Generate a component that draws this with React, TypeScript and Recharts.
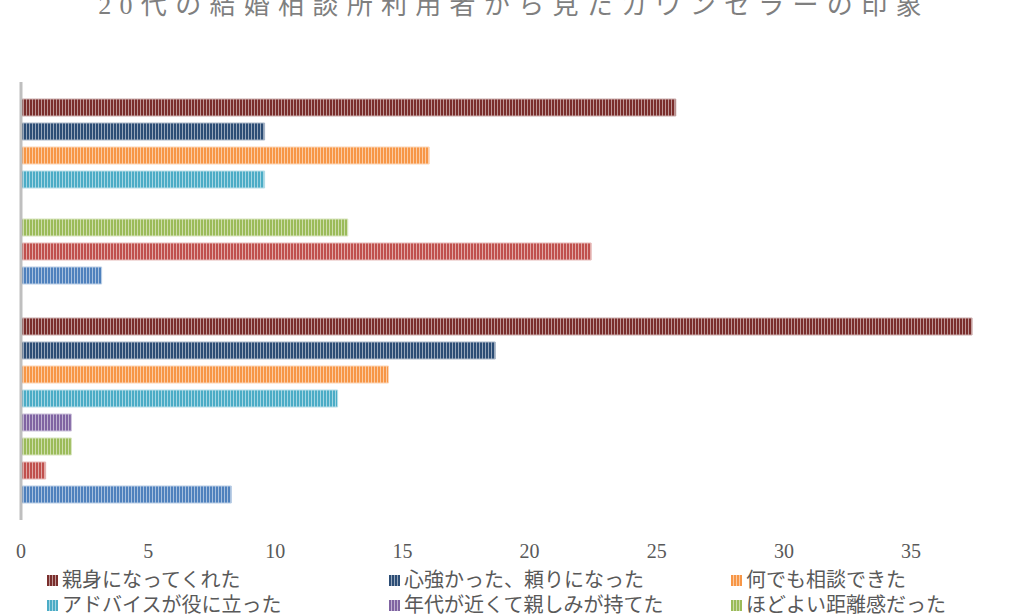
import { BarChart, Bar, XAxis, YAxis } from "recharts";

// categories, top to bottom
const categories = ["男性", "女性"];

// series, in legend / top-to-bottom order
const seriesNames = [
    "親身になってくれた",
    "心強かった、頼りになった",
    "何でも相談できた",
    "アドバイスが役に立った",
    "年代が近くて親しみが持てた",
    "ほどよい距離感だった",
    "話しやすかった",
    "その他",
];

const seriesColors = [
    "#7a2e2c", "#2c4d75", "#f79646", "#4bacc6",
    "#8064a2", "#9bbb59", "#c0504d", "#4f81bd",
];

// values per series: [top category, bottom category]
const s1 = [25.75, 37.4];
const s2 = [9.58, 18.65];
const s3 = [16.05, 14.45];
const s4 = [9.58, 12.45];
const s5 = [null, 1.98];
const s6 = [12.85, 1.98];
const s7 = [22.42, 0.97];
const s8 = [3.17, 8.27];
const seriesValues = [s1, s2, s3, s4, s5, s6, s7, s8];

const xTicks = [0, 5, 10, 15, 20, 25, 30, 35, 40];

const data = categories.map((name, ci) => {
    const row: Record<string, any> = { name };
    seriesNames.forEach((s, si) => { row[s] = seriesValues[si][ci]; });
    return row;
});

// mix a hex colour with white
const lighten = (hex: string, t: number) => {
    const n = parseInt(hex.slice(1), 16);
    const c = [(n >> 16) & 255, (n >> 8) & 255, n & 255].map(v => Math.round(v + (255 - v) * t));
    return `rgb(${c[0]},${c[1]},${c[2]})`;
};

const SERIF = "'Liberation Serif', 'DejaVu Serif', 'Noto Sans CJK JP', serif";

const App = () => {
    return (
        <div style={{ position: "fixed", left: 0, top: 0, width: 1024, height: 614, overflow: "hidden", background: "#fff" }}>
            {/* stripe patterns */}
            <svg width={0} height={0} style={{ position: "absolute" }}>
                <defs>
                    {seriesColors.map((c, i) => (
                        <pattern key={i} id={`stripe-${i}`} width={3} height={4} patternUnits="userSpaceOnUse">
                            <rect x={0} y={0} width={3} height={4} fill={c} />
                            <rect x={2} y={0} width={1} height={4} fill={lighten(c, 0.5)} />
                        </pattern>
                    ))}
                </defs>
            </svg>

            {/* title (cut at the top like the reference) */}
            <svg width={1024} height={40} style={{ position: "absolute", left: 0, top: 0 }}>
                <text x={514} y={14} textAnchor="middle" fill="#7f7f7f"
                    style={{ fontFamily: SERIF, fontSize: 26, letterSpacing: 8.3 }}>
                    20代の結婚相談所利用者から見たカウンセラーの印象
                </text>
            </svg>

            <div style={{ position: "absolute", left: 0, top: 0 }}>
                <BarChart width={1100} height={614} data={data} layout="vertical"
                    margin={{ top: 82, right: 61.8, left: 0, bottom: 54 }}
                    barCategoryGap={17} barGap={7}>
                    <XAxis type="number" domain={[0, 40]} ticks={xTicks} height={40}
                        axisLine={false} tickLine={false} tickSize={0} tickMargin={24}
                        tick={{ fill: "#595959", fontSize: 20, fontFamily: SERIF }} interval={0} />
                    <YAxis type="category" dataKey="name" width={21} tick={false} tickLine={false}
                        axisLine={{ stroke: "#bfbfbf", strokeWidth: 3 }} />
                    {seriesNames.map((s, i) => (
                        <Bar key={s} dataKey={s} fill={`url(#stripe-${i})`}
                            stroke={lighten(seriesColors[i], 0.6)} strokeWidth={1}
                            isAnimationActive={false} />
                    ))}
                </BarChart>
            </div>

            {/* legend */}
            <div style={{
                position: "absolute", left: 47, top: 568, width: 1026,
                display: "grid", gridTemplateColumns: "342px 342px 342px", rowGap: 1,
                fontFamily: SERIF, fontSize: 20, color: "#595959", lineHeight: "24px",
            }}>
                {seriesNames.map((s, i) => (
                    <div key={s} style={{ display: "flex", alignItems: "center", whiteSpace: "nowrap" }}>
                        <svg width={11} height={11} style={{ display: "block", marginRight: 4, flexShrink: 0 }}>
                            <rect width={11} height={11} fill={`url(#stripe-${i})`} />
                        </svg>
                        <span>{s}</span>
                    </div>
                ))}
            </div>
        </div>
    );
};

export default App;
